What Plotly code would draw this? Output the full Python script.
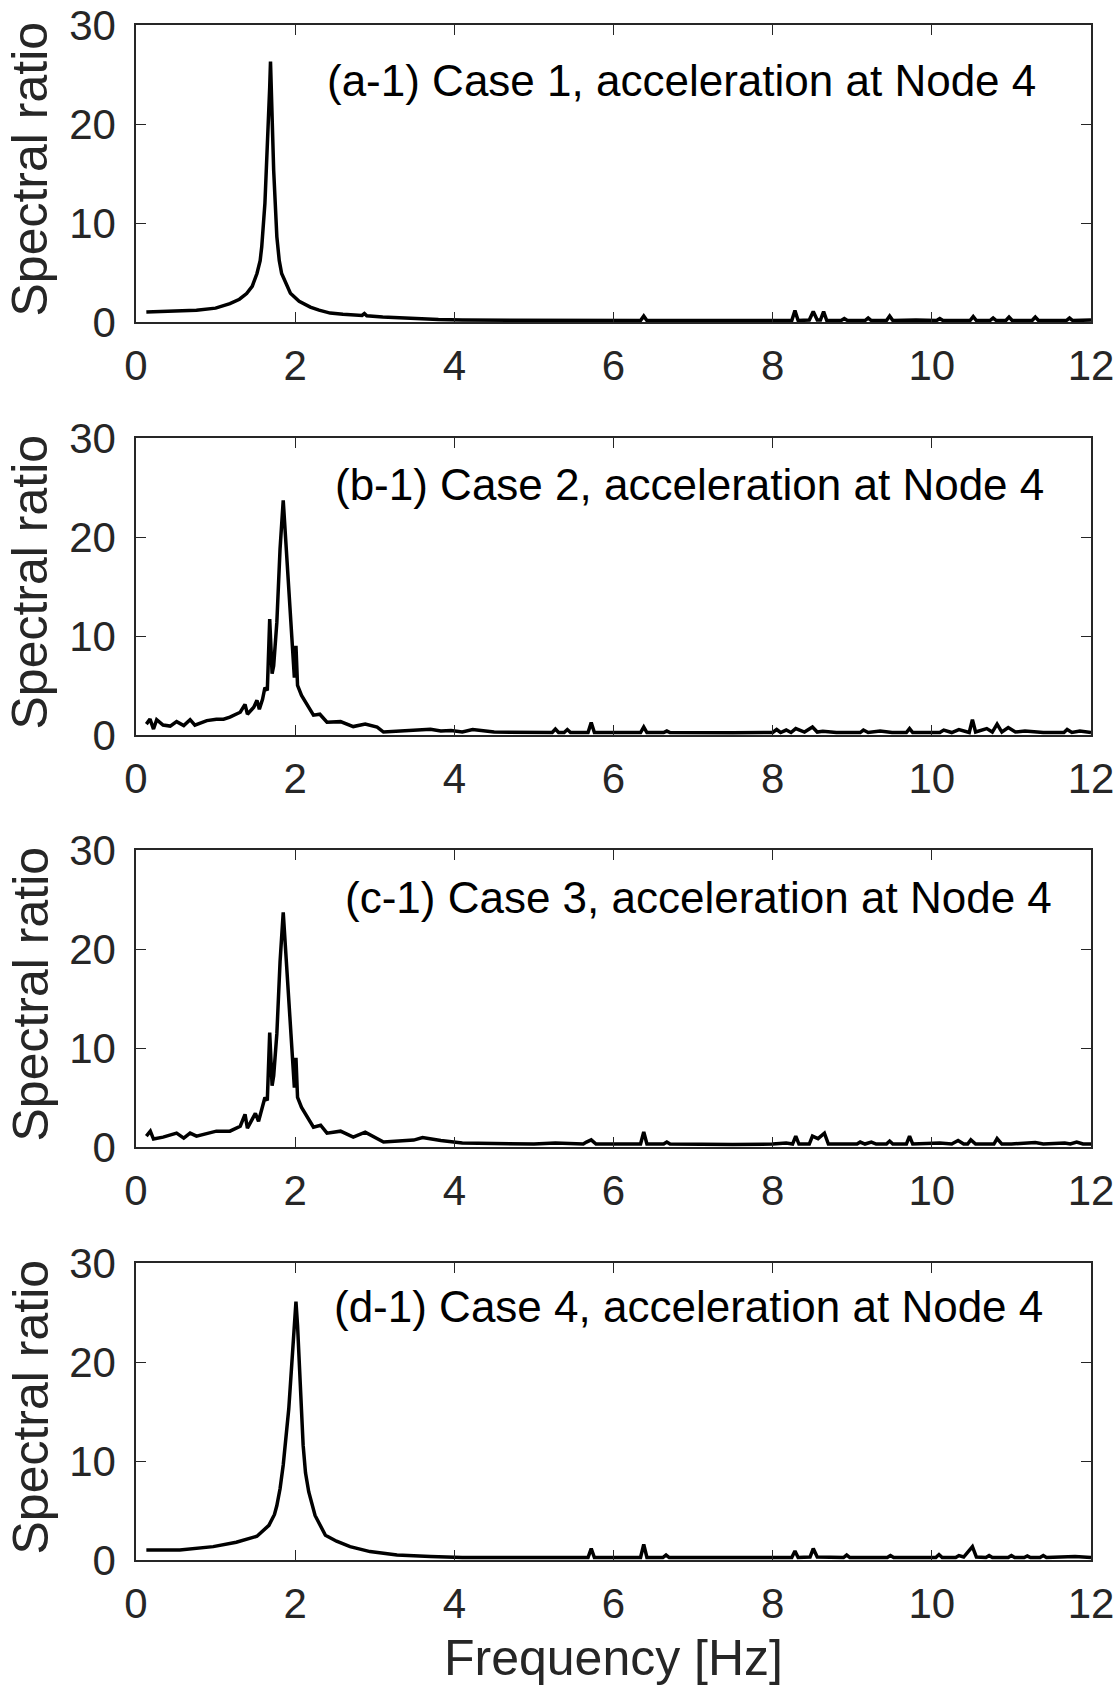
import plotly.graph_objects as go

# ---- data (frequency [Hz], spectral ratio) ----
case1_points = [(0.13,1.01),(0.4,1.08),(0.76,1.18),(1.0,1.4),(1.18,1.86),(1.3,2.3),(1.39,2.87),(1.46,3.6),
    (1.52,4.9),(1.56,6.2),(1.58,7.6),(1.62,12.0),(1.65,17.0),(1.68,23.7),(1.69,26.3),(1.707,22.0),(1.73,15.3),
    (1.77,8.6),(1.80,6.2),(1.83,4.9),(1.9,3.6),(1.94,2.9),(2.05,2.1),(2.19,1.5),(2.3,1.2),(2.44,0.9),(2.6,0.78),(2.84,0.66),
    (2.87,0.85),(2.9,0.62),(3.1,0.5),(3.49,0.34),(3.8,0.25),(4.1,0.2),(4.5,0.18),(5.0,0.16),(5.5,0.17),(5.8,0.15),
    (6.0,0.18),(6.34,0.15),(6.38,0.6),(6.42,0.15),(6.8,0.14),(7.2,0.16),(7.6,0.15),(8.0,0.14),(8.24,0.15),(8.28,1.15),
    (8.32,0.15),(8.46,0.2),(8.51,1.05),(8.56,0.2),(8.6,0.2),(8.64,1.05),(8.68,0.15),(8.86,0.15),(8.9,0.35),(8.94,0.15),
    (9.16,0.15),(9.2,0.4),(9.24,0.15),(9.43,0.15),(9.47,0.6),(9.51,0.15),(9.8,0.2),(10.06,0.15),(10.1,0.35),(10.14,0.15),
    (10.48,0.15),(10.52,0.55),(10.56,0.15),(10.73,0.15),(10.77,0.4),(10.81,0.15),(10.93,0.15),(10.97,0.5),(11.01,0.15),
    (11.26,0.15),(11.3,0.5),(11.34,0.15),(11.69,0.15),(11.73,0.4),(11.77,0.15),(12.0,0.2)]

case2_points = [(0.13,1.1),(0.176,1.6),(0.22,0.6),(0.26,1.55),(0.34,1.0),(0.43,0.9),(0.51,1.35),(0.6,0.95),
    (0.68,1.55),(0.74,1.0),(0.89,1.45),(1.01,1.6),(1.1,1.6),(1.18,1.8),(1.31,2.3),(1.37,3.1),(1.40,2.1),(1.48,2.8),
    (1.52,3.5),(1.55,2.6),(1.59,3.6),(1.62,4.8),(1.65,4.5),(1.68,11.7),(1.71,6.2),(1.73,7.0),(1.77,11.4),(1.81,18.8),
    (1.85,23.7),(1.87,21.2),(1.92,15.4),(1.97,9.0),(1.99,5.8),(2.01,9.0),(2.03,5.0),(2.08,4.0),(2.15,3.0),(2.23,2.0),
    (2.31,2.1),(2.40,1.3),(2.57,1.35),(2.73,0.85),(2.88,1.1),(3.03,0.8),(3.11,0.3),(3.49,0.47),(3.70,0.57),(3.83,0.4),
    (3.96,0.45),(4.1,0.3),(4.23,0.55),(4.5,0.3),(5.0,0.28),(5.23,0.25),(5.27,0.6),(5.31,0.25),(5.38,0.25),(5.42,0.55),
    (5.46,0.25),(5.68,0.25),(5.72,1.25),(5.76,0.25),(6.0,0.25),(6.34,0.25),(6.38,0.8),(6.42,0.25),(6.63,0.25),(6.67,0.4),
    (6.71,0.25),(7.0,0.22),(7.5,0.22),(8.0,0.25),(8.05,0.55),(8.1,0.25),(8.17,0.5),(8.23,0.25),(8.29,0.65),(8.4,0.3),
    (8.5,0.8),(8.56,0.3),(8.63,0.38),(8.8,0.25),(9.1,0.25),(9.14,0.5),(9.2,0.25),(9.35,0.4),(9.5,0.25),(9.68,0.25),
    (9.72,0.65),(9.76,0.25),(10.1,0.25),(10.15,0.5),(10.25,0.25),(10.34,0.55),(10.47,0.25),(10.51,1.55),(10.55,0.3),
    (10.69,0.65),(10.76,0.3),(10.82,1.1),(10.88,0.3),(10.96,0.75),(11.05,0.3),(11.17,0.4),(11.4,0.25),(11.66,0.25),
    (11.7,0.55),(11.76,0.25),(11.86,0.4),(12.0,0.25)]

case3_points = [(0.13,1.1),(0.18,1.6),(0.22,0.8),(0.34,1.0),(0.51,1.4),(0.6,0.9),(0.68,1.4),(0.76,1.1),(1.01,1.6),
    (1.18,1.6),(1.31,2.1),(1.37,3.3),(1.40,1.9),(1.50,3.4),(1.54,2.6),(1.59,4.0),(1.62,5.0),(1.65,4.7),(1.68,11.55),
    (1.71,6.2),(1.73,7.2),(1.77,11.45),(1.81,18.7),(1.85,23.7),(1.87,21.1),(1.92,15.0),(1.97,9.0),(1.99,6.0),(2.01,9.0),
    (2.03,5.0),(2.08,4.0),(2.15,3.0),(2.23,2.0),(2.32,2.2),(2.40,1.4),(2.57,1.6),(2.73,1.0),(2.88,1.5),(3.03,0.9),
    (3.11,0.5),(3.49,0.7),(3.6,0.95),(3.83,0.65),(4.1,0.4),(4.5,0.35),(5.0,0.3),(5.27,0.4),(5.5,0.3),(5.62,0.3),
    (5.66,0.5),(5.72,0.72),(5.78,0.3),(6.1,0.3),(6.34,0.3),(6.38,1.52),(6.42,0.3),(6.63,0.3),(6.67,0.5),(6.71,0.3),
    (7.0,0.25),(7.5,0.25),(8.0,0.3),(8.17,0.4),(8.25,0.3),(8.29,1.1),(8.33,0.3),(8.46,0.3),(8.5,1.1),(8.57,0.85),
    (8.65,1.4),(8.7,0.3),(9.06,0.3),(9.1,0.5),(9.16,0.3),(9.24,0.5),(9.3,0.3),(9.43,0.3),(9.47,0.6),(9.51,0.3),
    (9.68,0.3),(9.72,1.1),(9.76,0.3),(10.1,0.4),(10.25,0.3),(10.33,0.65),(10.4,0.3),(10.45,0.3),(10.49,0.72),(10.55,0.3),
    (10.7,0.3),(10.78,0.3),(10.82,0.85),(10.88,0.3),(11.0,0.3),(11.3,0.45),(11.4,0.3),(11.67,0.4),(11.74,0.3),
    (11.82,0.5),(11.9,0.3),(12.0,0.3)]

case4_points = [(0.13,1.0),(0.55,1.0),(0.97,1.35),(1.26,1.8),(1.52,2.4),(1.67,3.5),(1.74,4.6),(1.77,5.5),(1.81,7.2),
    (1.85,9.6),(1.92,15.3),(1.97,21.1),(1.99,23.7),(2.01,26.1),(2.03,23.7),(2.06,18.7),(2.10,11.6),(2.13,8.8),(2.17,6.9),
    (2.25,4.5),(2.30,3.7),(2.38,2.5),(2.52,1.9),(2.69,1.35),(2.94,0.85),(3.28,0.5),(3.7,0.35),(4.1,0.25),(4.8,0.25),
    (5.4,0.25),(5.68,0.25),(5.72,1.15),
    (5.76,0.25),(6.34,0.25),(6.38,1.58),(6.42,0.25),(6.62,0.25),(6.66,0.5),(6.7,0.25),(7.2,0.25),(7.8,0.25),(8.24,0.25),
    (8.28,0.9),(8.32,0.25),(8.47,0.3),(8.51,1.15),(8.56,0.3),(8.89,0.25),(8.93,0.5),(8.97,0.25),(9.44,0.25),(9.48,0.45),
    (9.52,0.25),(10.05,0.25),(10.09,0.55),(10.13,0.25),(10.3,0.25),(10.34,0.45),(10.4,0.3),(10.45,0.8),(10.51,1.35),
    (10.56,0.3),(10.68,0.25),(10.72,0.45),(10.76,0.25),(10.96,0.25),(11.0,0.45),(11.04,0.25),(11.16,0.25),(11.2,0.4),
    (11.24,0.25),(11.36,0.25),(11.4,0.45),(11.44,0.25),(11.8,0.35),(12.0,0.25)]

panel_labels = ["(a-1) Case 1, acceleration at Node 4",
                "(b-1) Case 2, acceleration at Node 4",
                "(c-1) Case 3, acceleration at Node 4",
                "(d-1) Case 4, acceleration at Node 4"]
x_ticks = [0, 2, 4, 6, 8, 10, 12]
y_ticks = [0, 10, 20, 30]
x_title = "Frequency [Hz]"
y_title = "Spectral ratio"

series = [case1_points, case2_points, case3_points, case4_points]

# ---- layout geometry (pixels in a 1120 x 1691 page) ----
W, H = 1120, 1691
x_left, x_right = 136, 1091
panel_tops = [25, 438, 850, 1263]
panel_h = 297
label_x = [325, 333, 343, 332]
label_dy = [56, 47, 47, 43]

FONT = "Liberation Sans, Arial, sans-serif"
AX = "#262626"

fig = go.Figure()
layout = dict(width=W, height=H,
              margin=dict(l=0, r=0, t=0, b=0, pad=0, autoexpand=False),
              paper_bgcolor="white", plot_bgcolor="white", showlegend=False)
annotations = []
for i, pts in enumerate(series):
    n = i + 1
    xs = [p[0] for p in pts]
    ys = [p[1] for p in pts]
    xa = "x" if n == 1 else f"x{n}"
    ya = "y" if n == 1 else f"y{n}"
    fig.add_trace(go.Scatter(x=xs, y=ys, mode="lines", xaxis=xa, yaxis=ya,
                             line=dict(color="black", width=3.5), hoverinfo="skip"))
    top = panel_tops[i]
    bot = top + panel_h
    common = dict(showline=True, linecolor=AX, linewidth=1.5, mirror="ticks",
                  ticks="inside", ticklen=10, tickwidth=1.3, tickcolor=AX,
                  showgrid=False, zeroline=False, automargin=False,
                  tickfont=dict(family=FONT, size=42, color=AX))
    layout["xaxis" if n == 1 else f"xaxis{n}"] = dict(
        domain=[x_left / W, x_right / W], range=[0, 12], tickvals=x_ticks,
        anchor=ya, ticklabelstandoff=6, **common)
    layout["yaxis" if n == 1 else f"yaxis{n}"] = dict(
        domain=[1 - bot / H, 1 - top / H], range=[0, 30], tickvals=y_ticks,
        anchor=xa, ticklabelstandoff=10, **common)
    annotations.append(dict(text=panel_labels[i], xref="paper", yref="paper",
                            x=label_x[i] / W, y=1 - (top + label_dy[i]) / H,
                            xanchor="left", yanchor="middle", showarrow=False,
                            font=dict(family=FONT, size=44, color="black")))
    annotations.append(dict(text=y_title, xref="paper", yref="paper",
                            x=30 / W, y=1 - (top + panel_h / 2 - 4) / H,
                            xanchor="center", yanchor="middle", textangle=-90,
                            showarrow=False,
                            font=dict(family=FONT, size=50, color=AX)))

annotations.append(dict(text=x_title, xref="paper", yref="paper",
                        x=((x_left + x_right) / 2) / W, y=1 - 1658 / H,
                        xanchor="center", yanchor="middle", showarrow=False,
                        font=dict(family=FONT, size=50, color=AX)))
layout["annotations"] = annotations
fig.update_layout(**layout)
fig.write_html("out.html")
